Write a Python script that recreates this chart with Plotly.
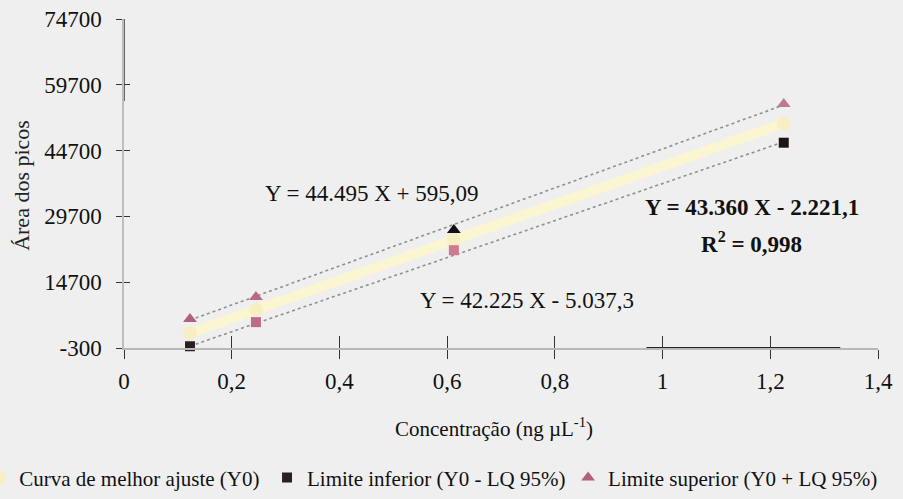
import plotly.graph_objects as go

# ---- data ----
conc = [0.1225, 0.245, 0.6125, 1.225]
area_fit = [3100, 8400, 24300, 50900]
area_lower = [100, 5600, 22000, 46500]
area_upper = [6300, 11300, 26600, 55300]
lower_colors = ["#2a1f24", "#c06a8a", "#d07a92", "#1c1418"]
upper_colors = ["#b0607c", "#b86a84", "#111111", "#c07a90"]

trend_x = [0.1225, 1.225]
trend_fit = [3090, 50900]
trend_lower = [135, 46690]
trend_upper = [6046, 55100]

x_tickvals = [0, 0.2, 0.4, 0.6, 0.8, 1.0, 1.2, 1.4]
x_ticktext = ["0", "0,2", "0,4", "0,6", "0,8", "1", "1,2", "1,4"]
y_tickvals = [-300, 14700, 29700, 44700, 59700, 74700]
y_ticktext = ["-300", "14700", "29700", "44700", "59700", "74700"]

FONT = "Liberation Serif, Times New Roman, serif"
BG = "#efefef"

fig = go.Figure()

# best-fit band (yellow) and dotted limit lines
fig.add_trace(go.Scatter(x=trend_x, y=trend_fit, mode="lines",
                         line=dict(color="rgba(250,245,208,0.95)", width=10),
                         showlegend=False, hoverinfo="skip"))
fig.add_trace(go.Scatter(x=trend_x, y=trend_upper, mode="lines",
                         line=dict(color="#909090", width=1.6, dash="dot"),
                         showlegend=False, hoverinfo="skip"))
fig.add_trace(go.Scatter(x=trend_x, y=trend_lower, mode="lines",
                         line=dict(color="#909090", width=1.6, dash="dot"),
                         showlegend=False, hoverinfo="skip"))

fig.add_trace(go.Scatter(x=conc, y=area_fit, mode="markers",
                         name="Curva de melhor ajuste (Y0)", legend="legend",
                         marker=dict(symbol="circle", size=14, color="#f7efc2",
                                     line=dict(width=0)),
                         cliponaxis=False))
fig.add_trace(go.Scatter(x=conc, y=area_lower, mode="markers",
                         name="Limite inferior (Y0 - LQ 95%)", legend="legend2",
                         marker=dict(symbol="square", size=10, color=lower_colors,
                                     line=dict(width=0)),
                         cliponaxis=False))
fig.add_trace(go.Scatter(x=conc, y=area_upper, mode="markers",
                         name="Limite superior (Y0 + LQ 95%)", legend="legend3",
                         marker=dict(symbol="triangle-up", size=12, color=upper_colors,
                                     line=dict(width=0)),
                         cliponaxis=False))
# dummy trace for the overlay axes (cross ticks)
fig.add_trace(go.Scatter(x=[None], y=[None], xaxis="x2", yaxis="y2",
                         showlegend=False, hoverinfo="skip"))

axis_common = dict(showgrid=False, zeroline=False, tickcolor="#333333", tickwidth=1.2)
legend_common = dict(orientation="h", xanchor="left", y=-0.395, yanchor="middle",
                     bgcolor="rgba(0,0,0,0)",
                     font=dict(family=FONT, size=21, color="#111111"))

fig.update_layout(
    width=903, height=499,
    margin=dict(l=124, r=25, t=19, b=151, autoexpand=False),
    paper_bgcolor=BG, plot_bgcolor=BG,
    font=dict(family=FONT, size=21, color="#111111"),
    xaxis=dict(range=[0, 1.4], tickvals=x_tickvals, ticktext=x_ticktext,
               ticks="outside", ticklen=9, ticklabelstandoff=3,
               tickfont=dict(family=FONT, size=23, color="#111111"),
               showline=True, linecolor="#b8b8b8", linewidth=1.5, **axis_common),
    yaxis=dict(range=[-300, 74700], tickvals=y_tickvals, ticktext=y_ticktext,
               ticks="outside", ticklen=6, ticklabelstandoff=10,
               tickfont=dict(family=FONT, size=23, color="#111111"),
               showline=True, linecolor="#bdbdbd", linewidth=1.5, **axis_common),
    xaxis2=dict(range=[0, 1.4], overlaying="x", anchor="y", side="bottom",
                tickvals=x_tickvals, ticks="inside", ticklen=12,
                showticklabels=False, showline=False, **axis_common),
    yaxis2=dict(range=[-300, 74700], overlaying="y", anchor="x", side="left",
                tickvals=y_tickvals, ticks="inside", ticklen=6,
                showticklabels=False, showline=False, **axis_common),
    legend=dict(x=-0.192, **legend_common),
    legend2=dict(x=0.1897, **legend_common),
    legend3=dict(x=0.589, **legend_common),
    showlegend=True,
)

# scan-like dark segments on the axes
fig.add_shape(type="line", xref="x", yref="y", x0=0.97, x1=1.33, y0=-300, y1=-300,
              line=dict(color="#222222", width=2.2))
fig.add_shape(type="line", xref="x", yref="y", x0=0, x1=0, y0=56000, y1=74700,
              line=dict(color="#444444", width=1.6))

ann = [
    dict(text="Y = 44.495 X + 595,09", x=0.460, y=35034, xref="x", yref="y"),
    dict(text="<b>Y = 43.360 X - 2.221,1</b>", x=1.166, y=31842, xref="x", yref="y"),
    dict(text="<b>R<sup>2</sup> = 0,998</b>", x=1.166, y=23864, xref="x", yref="y"),
    dict(text="Y = 42.225 X - 5.037,3", x=0.748, y=10642, xref="x", yref="y"),
    dict(text="Concentração (ng µL<sup>-1</sup>)", x=0.491, y=-0.243, xref="paper", yref="paper",
         font=dict(family=FONT, size=21, color="#111111")),
    dict(text="Área dos picos", x=-0.137, y=0.495, xref="paper", yref="paper", textangle=-90,
         font=dict(family=FONT, size=22, color="#222222")),
]
for a in ann:
    a.setdefault("font", dict(family=FONT, size=23, color="#111111"))
    fig.add_annotation(showarrow=False, xanchor="center", yanchor="middle", **a)

fig.write_html("out.html", config={"displayModeBar": False},
               post_script="document.body.style.margin='0px';")
